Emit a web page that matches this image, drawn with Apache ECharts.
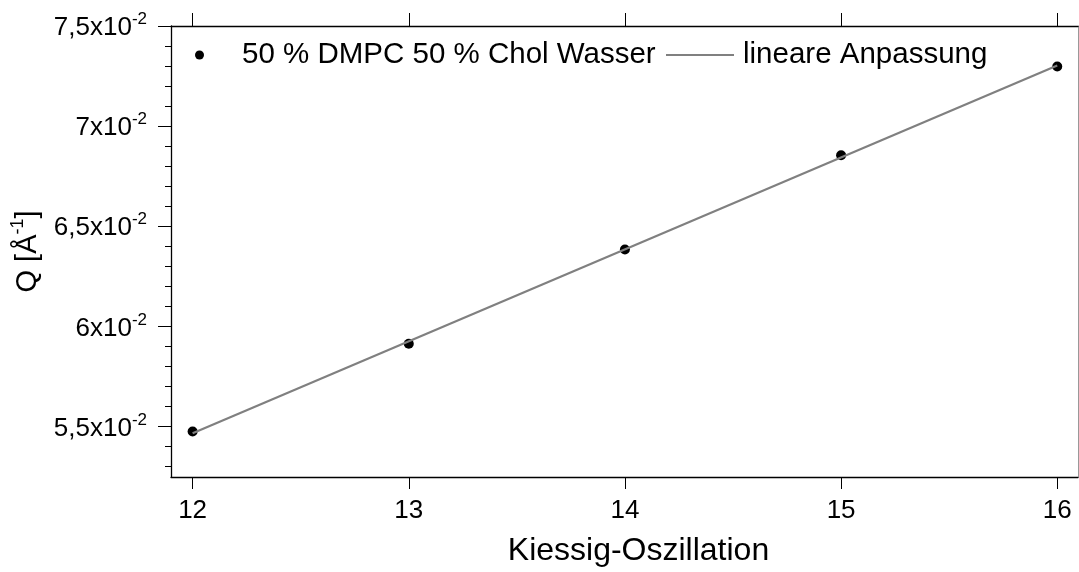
<!DOCTYPE html>
<html>
<head>
<meta charset="utf-8">
<script src="https://cdn.jsdelivr.net/npm/echarts@6/dist/echarts.min.js"></script>
<style>
html,body{margin:0;padding:0;background:#fff;}
#chart{width:1079px;height:572px;}
</style>
</head>
<body>
<div id="chart"></div>
<script>
// ---- data ----
const xValues = [12, 13, 14, 15, 16];
const qValues = [0.05475, 0.05913, 0.06384, 0.06855, 0.07298];
const fitX = [12, 16];
const fitY = [0.05467, 0.07303];
const xTicks = [12, 13, 14, 15, 16];
const yTicks = [0.055, 0.06, 0.065, 0.07, 0.075];
const yTickMantissa = ['5,5', '6', '6,5', '7', '7,5'];
const yTickExponent = ['-2', '-2', '-2', '-2', '-2'];
const yMinorTicks = [0.053, 0.054, 0.056, 0.057, 0.058, 0.059, 0.061, 0.062, 0.063, 0.064,
  0.066, 0.067, 0.068, 0.069, 0.071, 0.072, 0.073, 0.074];
const seriesNames = ['50 % DMPC 50 % Chol Wasser', 'lineare Anpassung'];
const xTitle = 'Kiessig-Oszillation';

const FONT = 'Liberation Sans, Arial, sans-serif';
const X_MIN = 11.9, X_MAX = 16.096, Y_MIN = 0.05248, Y_MAX = 0.075;

const chart = echarts.init(document.getElementById('chart'));

function yLabel(v) {
  let best = 0;
  for (let i = 1; i < yTicks.length; i++) {
    if (Math.abs(yTicks[i] - v) < Math.abs(yTicks[best] - v)) best = i;
  }
  return '{m|' + yTickMantissa[best] + 'x10}{e|' + yTickExponent[best] + '}';
}

const commonY = {
  type: 'value', min: Y_MIN, max: Y_MAX, position: 'left',
  splitLine: {show: false}
};

chart.setOption({
  animation: false,
  backgroundColor: '#fff',
  textStyle: {fontFamily: FONT},
  grid: {left: 171, top: 26, right: 1, bottom: 91, containLabel: false},
  legend: [
    {
      data: [{name: seriesNames[0], icon: 'circle', itemStyle: {color: '#000', opacity: 1}}],
      left: 195, top: 40, padding: 0, itemWidth: 9, itemHeight: 9,
      textStyle: {fontSize: 29.5, color: '#000', fontFamily: FONT, padding: [0, 0, 0, 33]},
      selectedMode: false
    },
    {
      data: [{name: seriesNames[1], icon: 'rect'}],
      left: 666, top: 40, padding: 0, itemWidth: 68, itemHeight: 2,
      textStyle: {fontSize: 29.5, color: '#000', fontFamily: FONT, padding: [0, 0, 0, 4]},
      selectedMode: false
    }
  ],
  xAxis: [
    {
      type: 'value', min: X_MIN, max: X_MAX, position: 'bottom',
      name: xTitle, nameLocation: 'middle', nameGap: 58,
      nameTextStyle: {fontSize: 32, color: '#000', fontFamily: FONT, padding: [0, 0, 0, 28]},
      axisLine: {show: true, lineStyle: {color: '#000', width: 1.3}},
      axisTick: {show: true, customValues: xTicks, length: 12, inside: false, lineStyle: {color: '#000', width: 1}},
      axisLabel: {show: true, customValues: xTicks, margin: 21, fontSize: 26, color: '#000', fontFamily: FONT,
        formatter: v => String(Math.round(v))},
      splitLine: {show: false}
    },
    {
      type: 'value', min: X_MIN, max: X_MAX, position: 'top',
      axisLine: {show: true, lineStyle: {color: '#000', width: 1.3}},
      axisTick: {show: true, customValues: xTicks, length: 13, inside: false, lineStyle: {color: '#000', width: 1}},
      axisLabel: {show: false},
      splitLine: {show: false}
    }
  ],
  yAxis: [
    Object.assign({}, commonY, {
      name: '{a|Q [Å}{b|-1}{a|]}', nameLocation: 'middle', nameGap: 122, nameRotate: 90,
      nameTextStyle: {
        color: '#000', fontFamily: FONT,
        rich: {
          a: {fontSize: 29, color: '#000', fontFamily: FONT, lineHeight: 34, verticalAlign: 'bottom'},
          b: {fontSize: 18, color: '#000', fontFamily: FONT, lineHeight: 18, verticalAlign: 'top'}
        }
      },
      axisLine: {show: true, lineStyle: {color: '#000', width: 1.3}},
      axisTick: {show: true, customValues: yTicks, length: 13, inside: false, lineStyle: {color: '#000', width: 1}},
      axisLabel: {
        show: true, customValues: yTicks, margin: 24, formatter: yLabel,
        rich: {
          m: {fontSize: 26, color: '#000', fontFamily: FONT, lineHeight: 30, verticalAlign: 'bottom'},
          e: {fontSize: 17, color: '#000', fontFamily: FONT, lineHeight: 17, verticalAlign: 'top'}
        }
      }
    }),
    Object.assign({}, commonY, {
      axisLine: {show: false},
      axisTick: {show: true, customValues: yMinorTicks, length: 6, inside: false, lineStyle: {color: '#000', width: 1}},
      axisLabel: {show: false}
    }),
    Object.assign({}, commonY, {
      position: 'right',
      axisLine: {show: true, lineStyle: {color: '#999', width: 1}},
      axisTick: {show: false},
      axisLabel: {show: false}
    })
  ],
  series: [
    {
      name: seriesNames[1], type: 'line',
      data: fitX.map((x, i) => [x, fitY[i]]),
      showSymbol: false, symbol: 'none',
      lineStyle: {color: '#808080', width: 2.2},
      itemStyle: {color: '#808080'},
      z: 3
    },
    {
      name: seriesNames[0], type: 'scatter',
      data: xValues.map((x, i) => [x, qValues[i]]),
      symbol: 'circle', symbolSize: 10,
      itemStyle: {color: '#000', opacity: 1},
      z: 2
    }
  ]
});
</script>
</body>
</html>
